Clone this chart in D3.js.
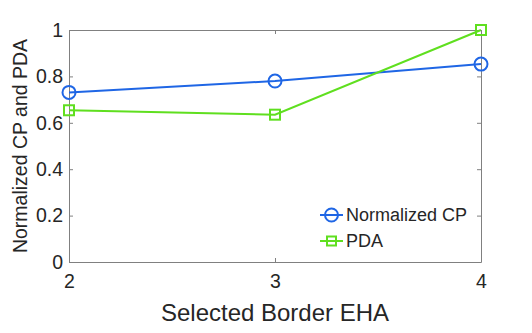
<!DOCTYPE html>
<html>
<head>
<meta charset="utf-8">
<script src="https://cdn.jsdelivr.net/npm/d3@7"></script>
<style>
  body { margin: 0; background: #fff; }
  text { font-family: "Liberation Sans", Arial, sans-serif; fill: #262626; }
</style>
</head>
<body>
<div id="chart"></div>
<script>
var borderEHA = [2, 3, 4];
var normalizedCP = [0.731, 0.780, 0.853];
var pda = [0.654, 0.635, 1.0];
var yTicks = [0, 0.2, 0.4, 0.6, 0.8, 1];
var seriesNames = ["Normalized CP", "PDA"];

var svgWidth = 532, svgHeight = 333;
var margin = { top: 30, right: 51, bottom: 71, left: 69 };
var width = svgWidth - margin.left - margin.right;
var height = svgHeight - margin.top - margin.bottom;

var svg = d3.select("#chart").append("svg")
  .attr("width", svgWidth)
  .attr("height", svgHeight);

var g = svg.append("g")
  .attr("transform", `translate(${margin.left}, ${margin.top})`);

var x = d3.scaleLinear().domain([2, 4]).range([0, width]);
var y = d3.scaleLinear().domain([0, 1]).range([height, 0]);

var axisColor = "#808080";
function styleAxis(sel) {
  sel.select(".domain").attr("stroke", axisColor);
  sel.selectAll(".tick line").attr("stroke", axisColor);
}

// bottom and left axes with inward ticks
var xAxis = g.append("g").attr("transform", `translate(0, ${height})`)
  .call(d3.axisBottom(x).tickValues(borderEHA).tickFormat(d3.format("d")).tickSizeInner(-4).tickSizeOuter(0).tickPadding(12));
xAxis.selectAll("text").attr("font-size", 19.5);
styleAxis(xAxis);

var yAxis = g.append("g")
  .call(d3.axisLeft(y).tickValues(yTicks).tickFormat(d => d === 0 || d === 1 ? d : d3.format(".1f")(d)).tickSizeInner(-4).tickSizeOuter(0).tickPadding(6));
yAxis.selectAll("text").attr("font-size", 19.5);
styleAxis(yAxis);

// top and right mirrored axes
var xTop = g.append("g")
  .call(d3.axisTop(x).tickValues(borderEHA).tickFormat("").tickSizeInner(-4).tickSizeOuter(0));
styleAxis(xTop);
var yRight = g.append("g").attr("transform", `translate(${width}, 0)`)
  .call(d3.axisRight(y).tickValues(yTicks).tickFormat("").tickSizeInner(-4).tickSizeOuter(0));
styleAxis(yRight);

// axis labels
g.append("text")
  .attr("x", width / 2).attr("y", height + 59)
  .attr("text-anchor", "middle").attr("font-size", 24)
  .text("Selected Border EHA");
g.append("text")
  .attr("transform", `translate(${-42}, ${height / 2}) rotate(-90)`)
  .attr("text-anchor", "middle").attr("font-size", 19.5)
  .text("Normalized CP and PDA");

var blue = "#1f66e5";
var green = "#5fdf1f";
var line = d3.line().x((d, i) => x(borderEHA[i])).y(d => y(d));

// Normalized CP
g.append("path").datum(normalizedCP)
  .attr("fill", "none").attr("stroke", blue).attr("stroke-width", 2)
  .attr("d", line);
g.selectAll(".cp").data(normalizedCP).enter().append("circle")
  .attr("class", "cp")
  .attr("cx", (d, i) => x(borderEHA[i])).attr("cy", d => y(d))
  .attr("r", 6.5).attr("fill", "none").attr("stroke", blue).attr("stroke-width", 2);

// PDA
g.append("path").datum(pda)
  .attr("fill", "none").attr("stroke", green).attr("stroke-width", 2)
  .attr("d", line);
g.selectAll(".pda").data(pda).enter().append("rect")
  .attr("class", "pda")
  .attr("x", (d, i) => x(borderEHA[i]) - 5).attr("y", d => y(d) - 5)
  .attr("width", 10).attr("height", 10)
  .attr("fill", "none").attr("stroke", green).attr("stroke-width", 2);

// legend
var legend = g.append("g").attr("transform", `translate(${251}, ${185})`);
var colors = [blue, green];
seriesNames.forEach(function(name, i) {
  var row = legend.append("g").attr("transform", `translate(0, ${i * 26})`);
  row.append("line").attr("x1", 0).attr("x2", 23).attr("y1", 0).attr("y2", 0)
    .attr("stroke", colors[i]).attr("stroke-width", 2);
  if (i === 0) {
    row.append("circle").attr("cx", 11.5).attr("cy", 0).attr("r", 6.5)
      .attr("fill", "none").attr("stroke", colors[i]).attr("stroke-width", 2);
  } else {
    row.append("rect").attr("x", 7).attr("y", -4.5).attr("width", 9).attr("height", 9)
      .attr("fill", "none").attr("stroke", colors[i]).attr("stroke-width", 2);
  }
  row.append("text").attr("x", 26).attr("y", 0).attr("dy", "0.35em")
    .attr("font-size", 18).text(name);
});
</script>
</body>
</html>
